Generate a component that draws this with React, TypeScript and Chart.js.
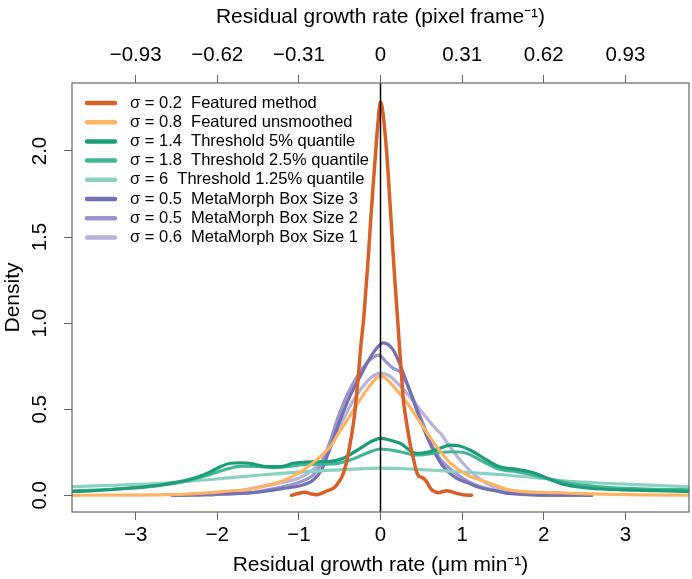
import React, { useEffect, useRef } from 'react';
import { Chart, registerables } from 'chart.js';

Chart.register(...registerables);

// ---------- data ----------
const X_TICKS = [-3, -2, -1, 0, 1, 2, 3];
const X_TICK_LABELS = ['−3', '−2', '−1', '0', '1', '2', '3'];
const TOP_TICK_LABELS = ['−0.93', '−0.62', '−0.31', '0', '0.31', '0.62', '0.93'];
const Y_TICKS = [0, 0.5, 1, 1.5, 2];
const Y_TICK_LABELS = ['0.0', '0.5', '1.0', '1.5', '2.0'];

const SERIES_LABELS = [
  'σ = 0.2  Featured method',
  'σ = 0.8  Featured unsmoothed',
  'σ = 1.4  Threshold 5% quantile',
  'σ = 1.8  Threshold 2.5% quantile',
  'σ = 6  Threshold 1.25% quantile',
  'σ = 0.5  MetaMorph Box Size 3',
  'σ = 0.5  MetaMorph Box Size 2',
  'σ = 0.6  MetaMorph Box Size 1',
];

const FEATURED_METHOD: [number, number][] = [
  [-1.09, 0.0], [-1.0, 0.012], [-0.92, 0.017], [-0.85, 0.008], [-0.78, 0.003], [-0.72, 0.012],
  [-0.66, 0.025], [-0.6, 0.035], [-0.55, 0.052], [-0.5, 0.085], [-0.47, 0.11], [-0.44, 0.15],
  [-0.41, 0.205], [-0.38, 0.28], [-0.35, 0.36], [-0.32, 0.46], [-0.3, 0.55], [-0.27, 0.7],
  [-0.25, 0.82], [-0.2, 1.06], [-0.15, 1.38], [-0.12, 1.6], [-0.09, 1.8], [-0.06, 1.99],
  [-0.03, 2.17], [0, 2.285], [0.03, 2.22], [0.076, 1.99], [0.1, 1.82], [0.128, 1.61],
  [0.16, 1.36], [0.206, 1.046], [0.23, 0.88], [0.26, 0.68], [0.28, 0.553], [0.31, 0.45],
  [0.34, 0.36], [0.37, 0.28], [0.4, 0.22], [0.44, 0.14], [0.47, 0.11], [0.5, 0.105],
  [0.53, 0.097], [0.565, 0.079], [0.6, 0.05], [0.63, 0.031], [0.67, 0.02], [0.71, 0.015],
  [0.76, 0.022], [0.81, 0.027], [0.86, 0.022], [0.91, 0.015], [0.96, 0.008], [1.01, 0.003],
  [1.06, 0.001], [1.115, 0.0],
];

const FEATURED_UNSMOOTHED: [number, number][] = [
  [-3.9, 0.0], [-3.2, 0.001], [-2.7, 0.003], [-2.4, 0.006], [-2.09, 0.015], [-1.85, 0.025],
  [-1.6, 0.035], [-1.39, 0.058], [-1.19, 0.085], [-1.0, 0.13], [-0.8, 0.2], [-0.62, 0.28],
  [-0.5, 0.37], [-0.33, 0.495], [-0.17, 0.611], [0, 0.692], [0.2, 0.611], [0.36, 0.514],
  [0.52, 0.398], [0.69, 0.282], [0.85, 0.19], [1.055, 0.12], [1.34, 0.07], [1.545, 0.035],
  [1.75, 0.021], [2.16, 0.015], [2.56, 0.008], [3.18, 0.002], [3.9, 0.0],
];

const THRESHOLD_5: [number, number][] = [
  [-3.9, 0.02], [-3.5, 0.027], [-3.1, 0.041], [-2.7, 0.06], [-2.37, 0.089], [-2.17, 0.118],
  [-2.0, 0.157], [-1.84, 0.186], [-1.7, 0.189], [-1.56, 0.182], [-1.39, 0.166], [-1.23, 0.166],
  [-1.07, 0.186], [-0.86, 0.195], [-0.66, 0.195], [-0.455, 0.215], [-0.25, 0.273], [-0.1, 0.315],
  [0, 0.331], [0.12, 0.32], [0.24, 0.302], [0.44, 0.244], [0.6, 0.253], [0.73, 0.273],
  [0.85, 0.292], [0.97, 0.286], [1.136, 0.253], [1.3, 0.205], [1.46, 0.166], [1.67, 0.151],
  [1.83, 0.137], [1.95, 0.118], [2.115, 0.085], [2.28, 0.06], [2.56, 0.041], [2.97, 0.031],
  [3.38, 0.027], [3.9, 0.02],
];

const THRESHOLD_2_5: [number, number][] = [
  [-3.9, 0.024], [-3.3, 0.035], [-2.8, 0.052], [-2.4, 0.08], [-2.1, 0.12], [-1.9, 0.15],
  [-1.7, 0.17], [-1.5, 0.168], [-1.3, 0.16], [-1.1, 0.17], [-0.9, 0.18], [-0.58, 0.182],
  [-0.37, 0.205], [-0.17, 0.244], [0, 0.269], [0.24, 0.253], [0.44, 0.234], [0.646, 0.244],
  [0.89, 0.253], [1.055, 0.244], [1.26, 0.195], [1.46, 0.151], [1.67, 0.137], [1.87, 0.118],
  [2.03, 0.099], [2.36, 0.066], [2.77, 0.046], [3.18, 0.038], [3.9, 0.031],
];

const THRESHOLD_1_25: [number, number][] = [
  [-3.9, 0.048], [-2.7, 0.07], [-2.0, 0.095], [-1.47, 0.118], [-1.0, 0.135], [-0.5, 0.148],
  [0, 0.158], [0.4, 0.152], [0.73, 0.143], [1.136, 0.131], [1.545, 0.118], [1.95, 0.099],
  [2.36, 0.079], [2.77, 0.07], [3.18, 0.06], [3.9, 0.049],
];

const METAMORPH_3: [number, number][] = [
  [-2.55, 0], [-2.2, 0.003], [-1.9, 0.008], [-1.6, 0.014], [-1.39, 0.025], [-1.19, 0.04],
  [-0.985, 0.055], [-0.82, 0.09], [-0.72, 0.15], [-0.62, 0.27], [-0.5, 0.43], [-0.37, 0.58],
  [-0.25, 0.69], [-0.1, 0.82], [0.035, 0.886], [0.157, 0.843], [0.28, 0.708], [0.4, 0.553],
  [0.52, 0.398], [0.646, 0.263], [0.77, 0.166], [0.93, 0.1], [1.055, 0.075], [1.18, 0.05],
  [1.46, 0.021], [1.545, 0.012], [1.87, 0.003], [2.2, 0.001], [2.59, 0],
];

const METAMORPH_2: [number, number][] = [
  [-2.55, 0], [-2.0, 0.005], [-1.6, 0.015], [-1.4, 0.03], [-1.2, 0.05], [-1.0, 0.075],
  [-0.82, 0.12], [-0.72, 0.19], [-0.62, 0.31], [-0.5, 0.48], [-0.37, 0.62], [-0.25, 0.717],
  [-0.12, 0.79], [-0.027, 0.814], [0.08, 0.77], [0.157, 0.737], [0.24, 0.717], [0.32, 0.65],
  [0.44, 0.514], [0.56, 0.37], [0.65, 0.27], [0.734, 0.21], [0.89, 0.14], [1.055, 0.085],
  [1.26, 0.045], [1.545, 0.015], [2.0, 0.002], [2.59, 0],
];

const METAMORPH_1: [number, number][] = [
  [-2.09, 0], [-1.8, 0.02], [-1.47, 0.05], [-1.2, 0.075], [-1.0, 0.1], [-0.8, 0.16],
  [-0.66, 0.24], [-0.5, 0.4], [-0.37, 0.52], [-0.25, 0.61], [-0.1, 0.69], [0, 0.71],
  [0.12, 0.69], [0.25, 0.63], [0.4, 0.55], [0.52, 0.476], [0.6, 0.43], [0.69, 0.38],
  [0.734, 0.36], [0.85, 0.282], [1.01, 0.186], [1.18, 0.108], [1.38, 0.05], [1.67, 0.015],
  [1.95, 0.003], [2.59, 0],
];

const SERIES_DATA = [
  FEATURED_METHOD, FEATURED_UNSMOOTHED, THRESHOLD_5, THRESHOLD_2_5,
  THRESHOLD_1_25, METAMORPH_3, METAMORPH_2, METAMORPH_1,
];

// ---------- styles ----------
const SERIES_COLORS = [
  '#d95f28', '#fdb462', '#1b9e77', '#43b495', '#8ad1c2', '#7570b3', '#9a96cb', '#b7b3da',
];
const FONT = '"Liberation Sans", Arial, Helvetica, sans-serif';
const AXIS_GRAY = '#666666';

const framePlugin = {
  id: 'frameAndLegend',
  afterDatasetsDraw(chart: any) {
    const { ctx, chartArea: a, scales } = chart;
    ctx.save();
    // vertical line at x = 0
    const x0 = scales.x.getPixelForValue(0);
    ctx.strokeStyle = '#000';
    ctx.lineWidth = 1.5;
    ctx.beginPath();
    ctx.moveTo(x0, a.top);
    ctx.lineTo(x0, a.bottom);
    ctx.stroke();
    // box
    ctx.strokeStyle = AXIS_GRAY;
    ctx.lineWidth = 1.2;
    ctx.strokeRect(a.left, a.top, a.right - a.left, a.bottom - a.top);
    // legend
    ctx.font = `16.5px ${FONT}`;
    ctx.textBaseline = 'middle';
    ctx.textAlign = 'left';
    chart.data.datasets.forEach((d: any, i: number) => {
      const y = a.top + 20 + i * 19.2;
      ctx.strokeStyle = d.borderColor;
      ctx.lineWidth = 4.5;
      ctx.lineCap = 'round';
      ctx.beginPath();
      ctx.moveTo(a.left + 15, y);
      ctx.lineTo(a.left + 43, y);
      ctx.stroke();
      ctx.fillStyle = '#000';
      ctx.fillText(d.label, a.left + 58, y);
    });
    ctx.restore();
  },
};

export default function App() {
  const ref = useRef<HTMLCanvasElement>(null);

  useEffect(() => {
    if (!ref.current) return;
    const tickGrid = {
      drawOnChartArea: false,
      drawTicks: true,
      tickLength: 8,
      color: AXIS_GRAY,
      lineWidth: 1,
    };
    const chart = new Chart(ref.current, {
      type: 'line',
      data: {
        datasets: SERIES_DATA.map((s, i) => ({
          label: SERIES_LABELS[i],
          data: s.map(([x, y]) => ({ x, y })),
          borderColor: SERIES_COLORS[i],
          backgroundColor: SERIES_COLORS[i],
          borderWidth: i === 0 ? 3.5 : 3.2,
          pointRadius: 0,
          fill: false,
          cubicInterpolationMode: 'monotone',
          borderCapStyle: 'round',
          borderJoinStyle: 'round',
          clip: 0,
        })),
      },
      options: {
        animation: false,
        responsive: false,
        events: [],
        layout: { padding: { left: 0, right: 3, top: 0, bottom: 0 } },
        plugins: { legend: { display: false }, tooltip: { enabled: false } },
        scales: {
          x: {
            type: 'linear',
            position: 'bottom',
            min: -3.78,
            max: 3.78,
            afterBuildTicks: (s: any) => { s.ticks = X_TICKS.map((v) => ({ value: v })); },
            afterFit: (s: any) => { s.height = 67; },
            grid: tickGrid,
            border: { display: false },
            ticks: {
              autoSkip: false,
              maxRotation: 0,
              minRotation: 0,
              padding: 3,
              color: '#000',
              font: { size: 20.5, family: FONT },
              callback: (_v: any, i: number) => X_TICK_LABELS[i],
            },
            title: {
              display: true,
              text: 'Residual growth rate (μm min⁻¹)',
              color: '#000',
              font: { size: 21, family: FONT },
              padding: { top: 0, bottom: 1 },
            },
          },
          x2: {
            type: 'linear',
            position: 'top',
            min: -3.78,
            max: 3.78,
            afterBuildTicks: (s: any) => { s.ticks = X_TICKS.map((v) => ({ value: v })); },
            afterFit: (s: any) => { s.height = 83; },
            grid: tickGrid,
            border: { display: false },
            ticks: {
              autoSkip: false,
              maxRotation: 0,
              minRotation: 0,
              padding: 7,
              color: '#000',
              font: { size: 20.5, family: FONT },
              callback: (_v: any, i: number) => TOP_TICK_LABELS[i],
            },
            title: {
              display: true,
              text: 'Residual growth rate (pixel frame⁻¹)',
              color: '#000',
              font: { size: 21, family: FONT },
              padding: { top: 5, bottom: 0 },
            },
          },
          y: {
            type: 'linear',
            position: 'left',
            min: -0.097,
            max: 2.395,
            afterBuildTicks: (s: any) => { s.ticks = Y_TICKS.map((v) => ({ value: v })); },
            afterFit: (s: any) => { s.width = 72; },
            grid: tickGrid,
            border: { display: false },
            ticks: {
              autoSkip: false,
              minRotation: 90,
              maxRotation: 90,
              crossAlign: 'center',
              padding: 9,
              color: '#000',
              font: { size: 20.5, family: FONT },
              callback: (_v: any, i: number) => Y_TICK_LABELS[i],
            },
            title: {
              display: true,
              text: 'Density',
              color: '#000',
              font: { size: 21, family: FONT },
              padding: { top: 1, bottom: 0 },
            },
          },
        },
      } as any,
      plugins: [framePlugin],
    } as any);
    return () => chart.destroy();
  }, []);

  return (
    <div style={{ position: 'absolute', left: 0, top: 0, width: 692, height: 579, background: '#fff' }}>
      <canvas ref={ref} width={692} height={579} style={{ display: 'block', width: 692, height: 579 }} />
    </div>
  );
}
